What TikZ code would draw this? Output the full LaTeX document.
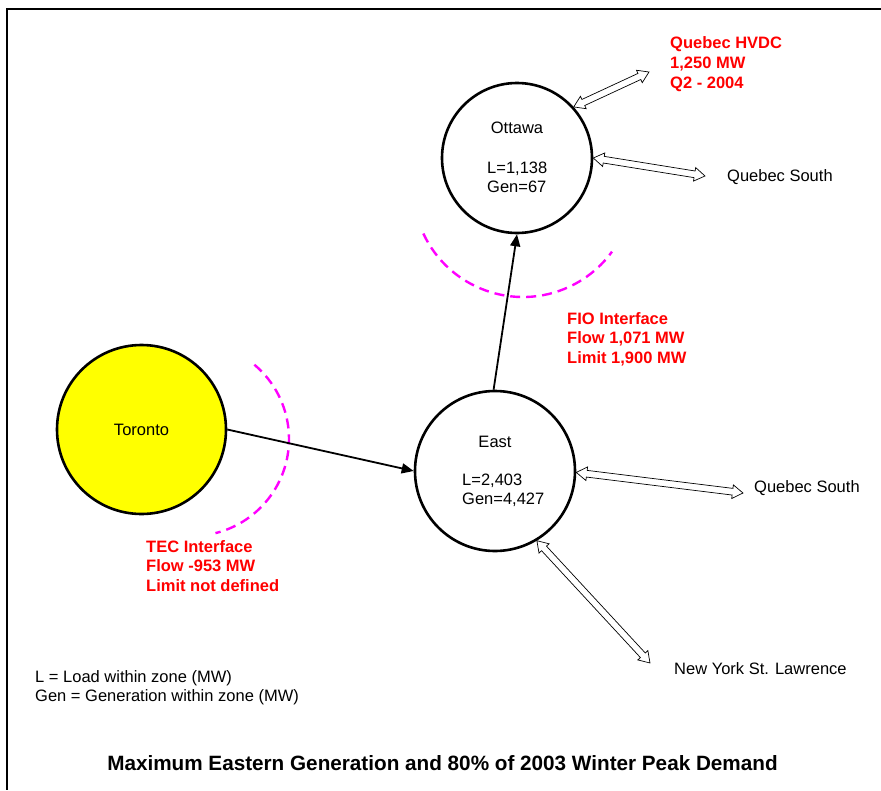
\documentclass[tikz,border=0pt]{standalone}
\usepackage{fontspec}
\setmainfont{Liberation Sans}
\usepackage{xcolor}
\definecolor{IfRed}{RGB}{255,0,0}
\definecolor{IfMagenta}{RGB}{255,0,255}
\definecolor{ZoneYellow}{RGB}{255,255,0}
\usetikzlibrary{positioning}
\usetikzlibrary{calc}
\usetikzlibrary{arrows.meta}
\usetikzlibrary{shapes.arrows}

% hollow two-headed arrow between two named points
\newcommand{\tielink}[2]{%
  \path let \p1 = ($ (#2)-(#1) $), \n1 = {veclen(\x1,\y1)}, \n2 = {atan2(\y1,\x1)} in
    node[tie, minimum height=\n1, rotate=\n2] at ($ (#1)!0.5!(#2) $) {};}

\begin{document}
\begin{tikzpicture}[
      x=1pt, y=1pt
      , zone/.style={circle, draw, line width=2.6pt, inner sep=0pt}
      , txt/.style={inner sep=0pt, anchor=west, align=left, font=\fontsize{16.5}{19.5}\selectfont}
      , red-txt/.style={txt, color=IfRed, font=\fontsize{16.5}{19.7}\selectfont\bfseries}
      , flow/.style={-{Triangle[length=12pt, width=10pt]}, line width=1.8pt}
      , tie/.style={double arrow, draw, fill=white, line width=0.7pt, inner xsep=0pt, inner ysep=3pt,
          double arrow head extend=3.5pt, double arrow tip angle=66, minimum width=0pt}
      , iface/.style={color=IfMagenta, line width=2.4pt, dash pattern=on 10pt off 6pt}
      , on grid
      ]

      \useasboundingbox (0,0) rectangle (881,-790);
      \draw[line width=2.8pt] (881,-9) -- (7,-9) -- (7,-790);

      % zones
      \node[zone, fill=ZoneYellow, minimum size=169pt] (toronto) at (141.5,-429.5) {};
      \node[zone, minimum size=160pt] (east) at (495,-471) {};
      \node[zone, minimum size=150pt] (ottawa) at (517,-158) {};

      \node[txt, anchor=center] (toronto-name) at (toronto) {Toronto};
      \node[txt, anchor=center, above = 29pt of east] (east-name) {East};
      \node[txt] (east-data) at (462,-490.5) {L=2,403\\Gen=4,427};
      \node[txt, anchor=center, above = 30pt of ottawa] (ottawa-name) {Ottawa};
      \node[txt] (ottawa-data) at (487,-177.5) {L=1,138\\Gen=67};

      % interface boundaries
      \coordinate (fio-c) at ($ (ottawa)+(6,-29) $);
      \coordinate (tec-c) at ($ (toronto)+(50.5,-9.5) $);
      \draw[iface] ($ (fio-c)+(205:110) $) arc (205:324:110);
      \draw[iface] ($ (tec-c)+(50:97) $) arc (50:-76:97);

      % flows
      \draw[flow] (toronto.east) -- (east.west);
      \draw[flow] (east.91) -- (ottawa.270);

      % ties to neighbours
      \coordinate (hvdc-end) at (649,-72);
      \coordinate (qs-ott-end) at (705,-176);
      \coordinate (qs-east-end) at (743,-493);
      \coordinate (nysl-end) at (650,-663);
      \tielink{ottawa.42}{hvdc-end}
      \tielink{ottawa.0}{qs-ott-end}
      \tielink{east.-1}{qs-east-end}
      \tielink{east.-59}{nysl-end}

      \node[txt] (qs-ott) at (727,-177) {Quebec South};
      \node[txt] (qs-east) at (754,-488) {Quebec South};
      \node[txt] (nysl) at (674,-669) {New York St. Lawrence};

      % interface notes
      \node[red-txt] (hvdc) at (670,-64) {Quebec HVDC\\1,250 MW\\Q2 - 2004};
      \node[red-txt] (fio) at (567,-339) {FIO Interface\\Flow 1,071 MW\\Limit 1,900 MW};
      \node[red-txt] (tec) at (146,-566) {TEC Interface\\Flow -953 MW\\Limit not defined};

      % legend and title
      \node[txt] (legend) at (35,-687.5) {L = Load within zone (MW)\\Gen = Generation within zone (MW)};
      \node[txt, anchor=center, font=\fontsize{20.7}{24}\selectfont\bfseries] (title) at (442.5,-763) {Maximum Eastern Generation and 80\% of 2003 Winter Peak Demand};
    \end{tikzpicture}
\end{document}
